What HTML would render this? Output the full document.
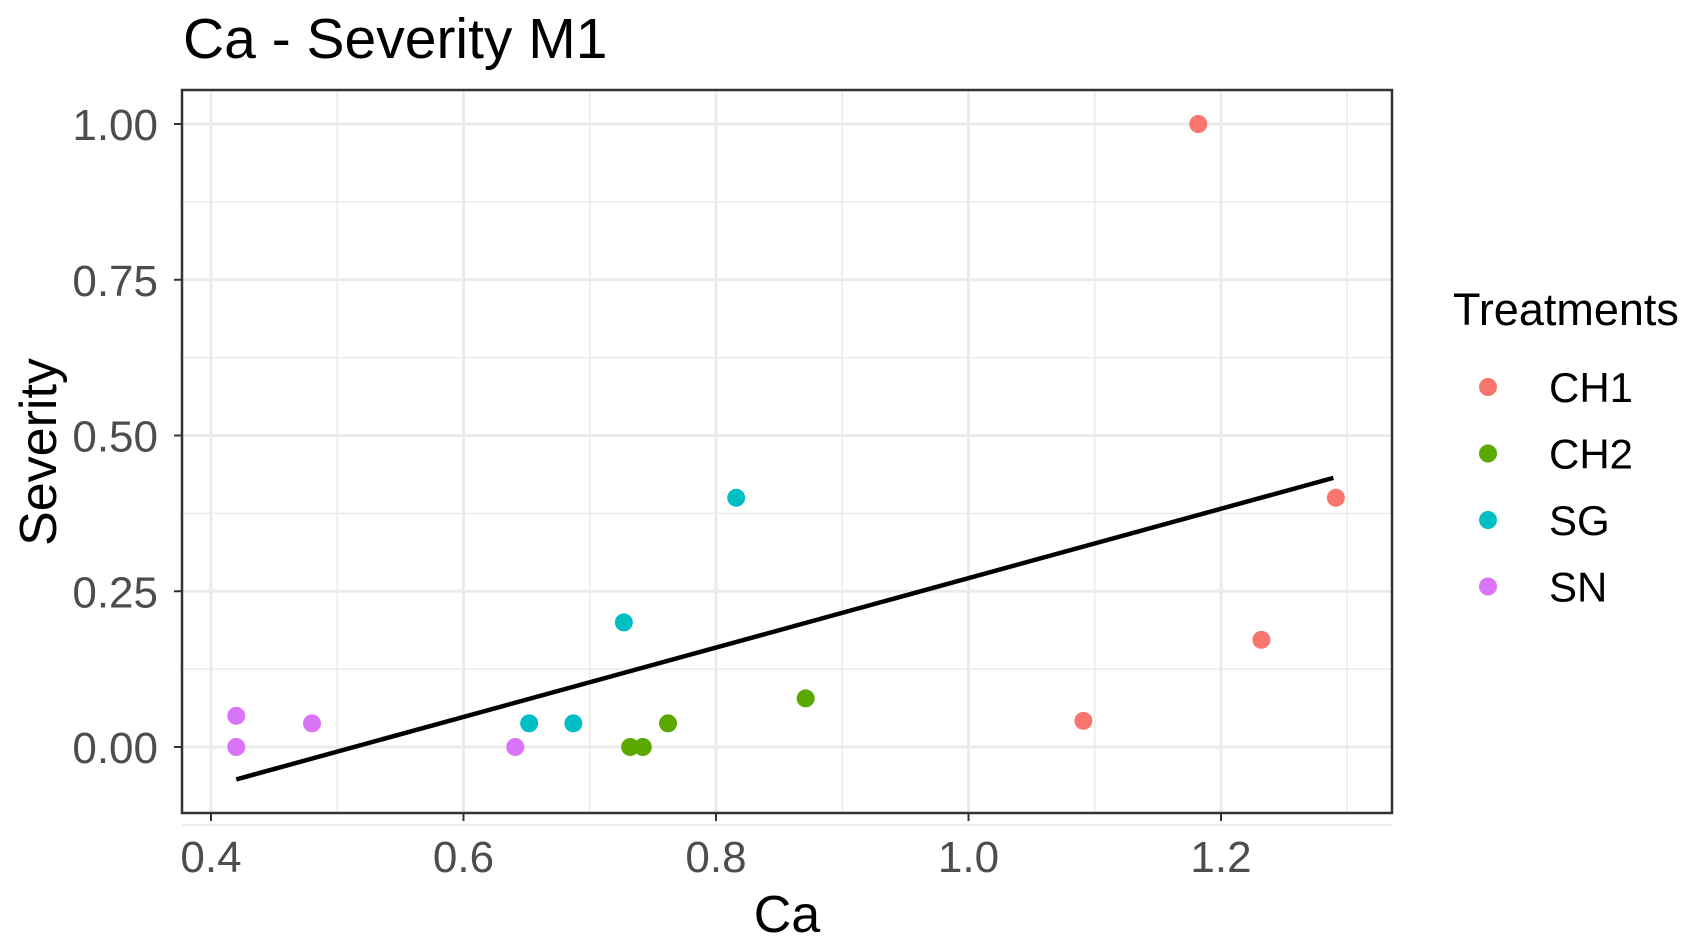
<!DOCTYPE html>
<html><head><meta charset="utf-8"><style>
html,body{margin:0;padding:0;background:#fff;}
svg{display:block;font-family:"Liberation Sans",Arial,sans-serif;}
</style></head><body>
<svg id="chart" width="1693" height="951" viewBox="0 0 1693 951"></svg>
<script>
const xTicks=[0.4,0.6,0.8,1.0,1.2];
const xTickLabels=["0.4","0.6","0.8","1.0","1.2"];
const xMinor=[0.5,0.7,0.9,1.1,1.3];
const yTicks=[0,0.25,0.5,0.75,1.0];
const yTickLabels=["0.00","0.25","0.50","0.75","1.00"];
const yMinor=[-0.125,0.125,0.375,0.625,0.875];
const groups=["CH1","CH2","SG","SN"];
const colors=["#F8766D","#5AA800","#00BFC4","#DA74F6"];
const ch1X=[1.182,1.291,1.232,1.091], ch1Y=[1.0,0.40,0.172,0.042];
const ch2X=[0.732,0.742,0.762,0.871], ch2Y=[0,0,0.038,0.078];
const sgX=[0.816,0.727,0.652,0.687], sgY=[0.40,0.20,0.038,0.038];
const snX=[0.42,0.42,0.48,0.641], snY=[0.05,0,0.038,0];
const fitX=[0.42,1.289], fitY=[-0.052,0.432];

const NS="http://www.w3.org/2000/svg";
const svg=document.getElementById('chart');
const L=182,R=1392,T=90,B=813;
function sx(v){return 211+(v-0.4)*1262.5;}
function sy(v){return 747-v*623;}
function mk(tag,attrs,parent){const e=document.createElementNS(NS,tag);for(const k in attrs)e.setAttribute(k,attrs[k]);(parent||svg).appendChild(e);return e;}

const bg=mk('rect',{x:L,y:T,width:R-L,height:B-T,fill:'#fff'});


xMinor.forEach(v=>{const l=mk('line',{x1:sx(v),x2:sx(v),y1:T,y2:B,stroke:'#ebebeb','stroke-width':1.5});

});
yMinor.forEach(v=>{const l=mk('line',{x1:L,x2:R,y1:sy(v),y2:sy(v),stroke:'#ebebeb','stroke-width':1.5});

});
xTicks.forEach((v,i)=>{const l=mk('line',{x1:sx(v),x2:sx(v),y1:T,y2:B,stroke:'#ebebeb','stroke-width':3});


const t=mk('line',{x1:sx(v),x2:sx(v),y1:B,y2:B+8,stroke:'#333','stroke-width':2});


const tx=mk('text',{x:sx(v),y:872,'text-anchor':'middle','font-size':44,fill:'#4d4d4d'});tx.textContent=xTickLabels[i];

});
yTicks.forEach((v,i)=>{const l=mk('line',{x1:L,x2:R,y1:sy(v),y2:sy(v),stroke:'#ebebeb','stroke-width':3});


const t=mk('line',{x1:L-8,x2:L,y1:sy(v),y2:sy(v),stroke:'#333','stroke-width':2});


const tx=mk('text',{x:158,y:sy(v)+16,'text-anchor':'end','font-size':44,fill:'#4d4d4d'});tx.textContent=yTickLabels[i];

});

const fit=mk('line',{x1:sx(fitX[0]),y1:sy(fitY[0]),x2:sx(fitX[1]),y2:sy(fitY[1]),stroke:'#000','stroke-width':4.5});



const series=[[ch1X,ch1Y],[ch2X,ch2Y],[sgX,sgY],[snX,snY]];
series.forEach((s,g)=>{s[0].forEach((xv,i)=>{const c=mk('circle',{cx:sx(xv),cy:sy(s[1][i]),r:9,fill:colors[g]});

});});

const border=mk('rect',{x:L,y:T,width:R-L,height:B-T,fill:'none',stroke:'#333','stroke-width':2.5});



const title=mk('text',{x:183,y:58,'font-size':57,fill:'#000'});title.textContent='Ca - Severity M1';


const xt=mk('text',{x:787,y:932,'text-anchor':'middle','font-size':52,fill:'#000'});xt.textContent='Ca';


const yt=mk('text',{x:0,y:0,'text-anchor':'middle','font-size':52,fill:'#000',transform:'translate(56,452) rotate(-90)'});yt.textContent='Severity';



const lt=mk('text',{x:1453,y:325,'font-size':45,fill:'#000'});lt.textContent='Treatments';


groups.forEach((g,i)=>{const y=387+i*66.5;
const c=mk('circle',{cx:1488,cy:y,r:9,fill:colors[i]});


const t=mk('text',{x:1549,y:y+15,'font-size':42,fill:'#000'});t.textContent=g;

});
</script>
</body></html>
